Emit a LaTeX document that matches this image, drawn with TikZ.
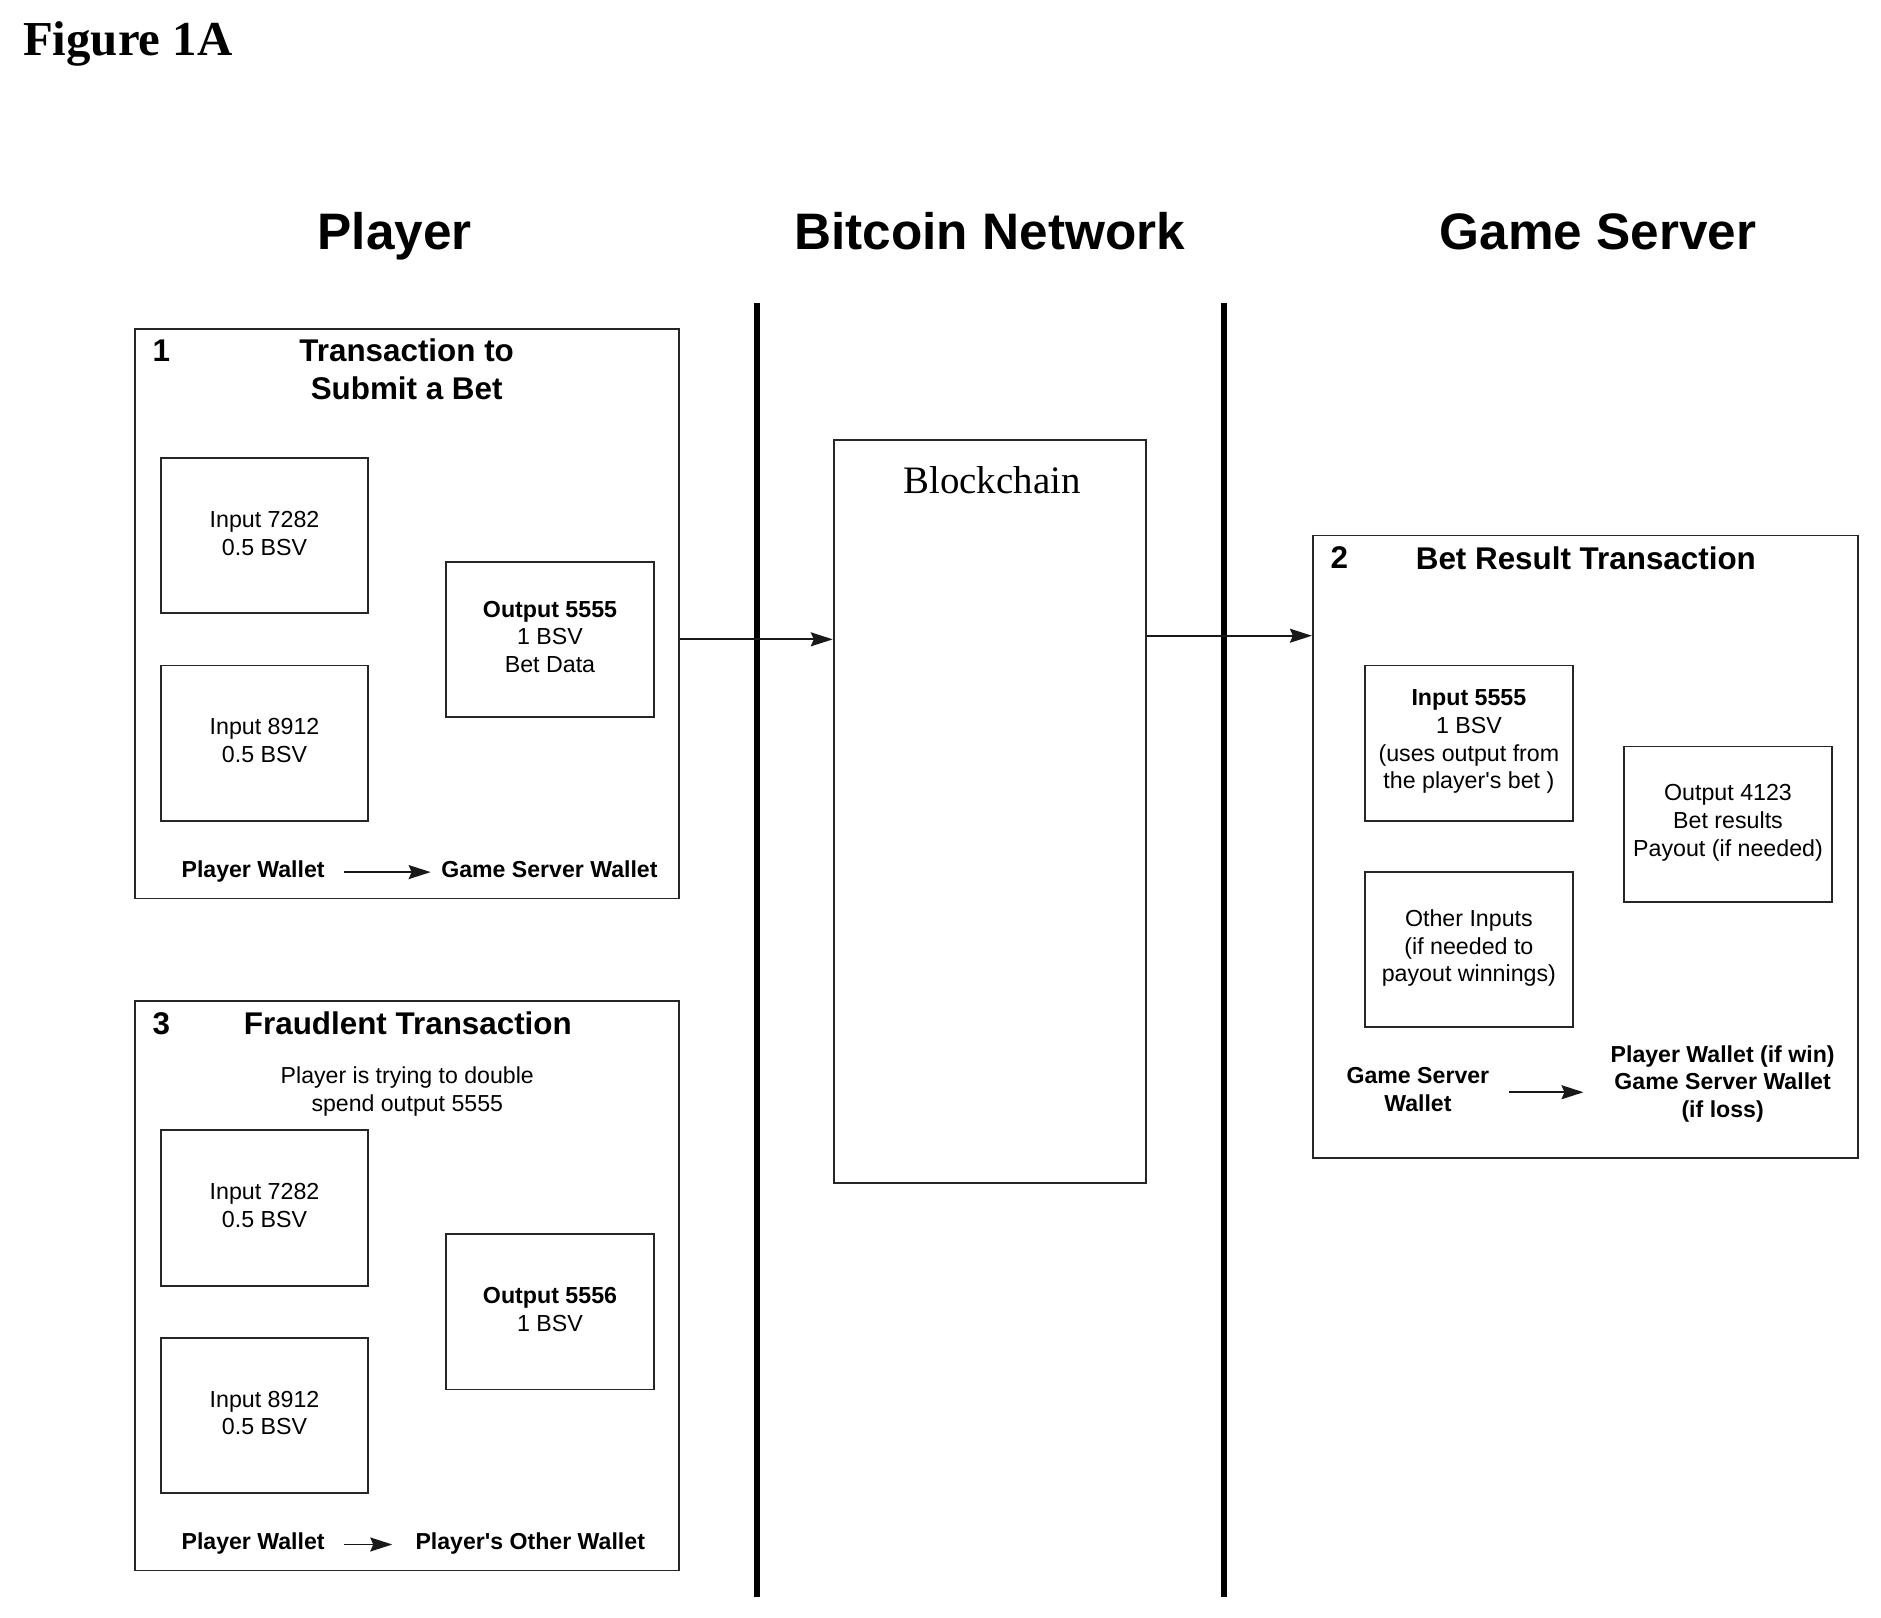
\documentclass[tikz,border=0pt]{standalone}
\usepackage{fontspec}
\setmainfont{Liberation Sans}[Ligatures=TeXOff]
\newfontfamily\seriffont{Liberation Serif}
\usetikzlibrary{arrows.meta,calc}
\tikzset{
  outer/.style={draw=black!85,line width=1.8bp,fill=white,minimum width=544bp,minimum height=569.4bp,inner sep=0pt},
  txbox/.style={draw=black!85,line width=1.8bp,fill=white,minimum width=207.6bp,minimum height=155.4bp,inner sep=0pt,align=center,font=\fontsize{23.3}{27.8}\selectfont,text depth=5bp},
  txboxlow/.style={txbox,text depth=7.5bp},
  heading/.style={font=\fontsize{51.5}{60}\selectfont\bfseries,inner sep=0pt,anchor=base},
  title/.style={font=\fontsize{31.5}{38}\selectfont\bfseries,align=center,inner sep=0pt},
  wallet/.style={font=\fontsize{23.2}{27.8}\selectfont\bfseries,align=center,inner sep=0pt,text height=17bp,text depth=5bp},
  walletmulti/.style={font=\fontsize{23.2}{27.8}\selectfont\bfseries,align=center,inner sep=0pt},
  note/.style={font=\fontsize{23.2}{27.8}\selectfont,align=center,inner sep=0pt},
  divider/.style={line width=6bp,black},
  link/.style={line width=1.7bp,black!90,-{Stealth[length=22bp,width=14bp,inset=3bp]}},
}
\begin{document}
\begin{tikzpicture}[x=1.1996bp,y=-1.1996bp]
\path[use as bounding box,fill=white] (0bp,0bp) rectangle (1881bp,-1618bp);
% caption and headings
\node[font=\fontsize{49}{56}\selectfont\seriffont\bfseries,inner sep=0pt] (fig) at (106.5,37) {Figure 1A};
\node[heading] (hplayer) at (329,208) {Player};
\node[heading] (hnet) at (825,208) {Bitcoin Network};
\node[heading] (hgame) at (1332,208) {Game Server};
% dividers
\coordinate (d1t) at (631,253); \coordinate (d1b) at (631,1331);
\coordinate (d2t) at (1020,253); \coordinate (d2b) at (1020,1331);
% outer boxes
\node[outer] (tx1) at (339.3,511.7) {};
\node[outer] (tx3) at (339.3,1071.8) {};
\node[outer,minimum width=545.4bp,minimum height=622.2bp] (tx2) at (1321.7,705.7) {};
\node[outer,minimum width=312bp,minimum height=742.8bp] (chain) at (825,676.5) {};
\node[font=\fontsize{39}{46}\selectfont\seriffont,inner sep=0pt] (chaintitle) at (827,400) {Blockchain};
\draw[divider] (d1t) -- (d1b);
\draw[divider] (d2t) -- (d2b);
% Transaction 1
\node[title] (n1) at (134.5,292) {1};
\node[title] (t1) at (339,308) {Transaction to\\Submit a Bet};
\node[txbox] (i1a) at (220.5,446.5) {Input 7282\\0.5 BSV};
\node[txbox] (i1b) at (220.5,619.5) {Input 8912\\0.5 BSV};
\node[txbox] (o1) at (458.5,533) {\textbf{Output 5555}\\1 BSV\\Bet Data};
\node[wallet] (w1a) at (211,726.5) {Player Wallet};
\node[wallet] (w1b) at (458,726.5) {Game Server Wallet};
\coordinate (a1s) at (287,727); \coordinate (a1e) at (359,727);
\draw[link] (a1s) -- (a1e);
% Transaction 3
\node[title] (n3) at (134.5,853) {3};
\node[title] (t3) at (340,853) {Fraudlent Transaction};
\node[note] (s3) at (339.5,910) {Player is trying to double\\spend output 5555};
\node[txbox] (i3a) at (220.5,1007) {Input 7282\\0.5 BSV};
\node[txbox] (i3b) at (220.5,1180) {Input 8912\\0.5 BSV};
\node[txbox] (o3) at (458.5,1093.5) {\textbf{Output 5556}\\1 BSV};
\node[wallet] (w3a) at (211,1286.5) {Player Wallet};
\node[wallet] (w3b) at (442,1286.5) {Player's Other Wallet};
\coordinate (a3s) at (287,1287.5); \coordinate (a3e) at (327,1287.5);
\draw[link] (a3s) -- (a3e);
% Transaction 2
\node[title] (n2) at (1116.5,465) {2};
\node[title] (t2) at (1322,465) {Bet Result Transaction};
\node[txboxlow] (i2a) at (1224.5,619.5) {\textbf{Input 5555}\\1 BSV\\(uses output from\\the player's bet )};
\node[txboxlow] (i2b) at (1224.5,791.5) {Other Inputs\\(if needed to\\payout winnings)};
\node[txboxlow] (o2) at (1440.5,687) {Output 4123\\Bet results\\Payout (if needed)};
\node[walletmulti] (w2a) at (1182,908) {Game Server\\Wallet};
\node[walletmulti] (w2b) at (1436,903.5) {Player Wallet (if win)\\Game Server Wallet\\(if loss)};
\coordinate (a2s) at (1258,910.5); \coordinate (a2e) at (1320,910.5);
\draw[link] (a2s) -- (a2e);
% connectors between columns
\path ([yshift=-25.5bp]tx1.east) coordinate (c1);
\draw[link] (c1) -- (c1 -| chain.west);
\path ([yshift=175.8bp]chain.east) coordinate (c2);
\draw[link] (c2) -- (c2 -| tx2.west);
\end{tikzpicture}
\end{document}
